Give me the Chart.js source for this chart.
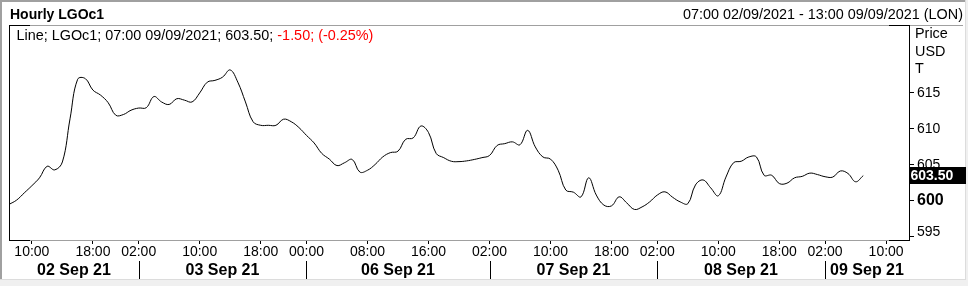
<!DOCTYPE html>
<html><head><meta charset="utf-8">
<script src="https://cdn.jsdelivr.net/npm/chart.js@4.4.0/dist/chart.umd.min.js"></script>
<style>html,body{margin:0;padding:0;background:#fff;overflow:hidden}#wrap{position:relative;width:968px;height:286px}</style>
</head><body><div id="wrap"><canvas id="c" width="968" height="286"></canvas></div>
<script>
// ---- data ----
const dayLabels = ['02 Sep 21','03 Sep 21','06 Sep 21','07 Sep 21','08 Sep 21','09 Sep 21'];
const dayFirstHour = [7, 2, 0, 2, 2, 2];
const dayLastHour = [23, 23, 23, 23, 23, 13];
const xTicks = ['02 Sep 21 10:00','02 Sep 21 18:00','03 Sep 21 02:00','03 Sep 21 10:00','03 Sep 21 18:00',
  '06 Sep 21 00:00','06 Sep 21 08:00','06 Sep 21 16:00','07 Sep 21 02:00','07 Sep 21 10:00','07 Sep 21 18:00',
  '08 Sep 21 02:00','08 Sep 21 10:00','08 Sep 21 18:00','09 Sep 21 02:00','09 Sep 21 10:00'];
const prices = [
  599.5, 600.1, 601.1, 602.1, 603.2, 604.8, 604.3, 605.4, 611.4, 616.9,
  617.0, 615.4, 614.7, 613.65, 611.9, 612.0, 612.6, 612.9, 612.95, 614.5,
  613.75, 613.4, 614.2, 614.0, 613.75, 615.0, 616.5, 616.75, 617.2, 618.2,
  616.5, 613.75, 611.0, 610.5, 610.5, 610.5, 611.35, 611.0, 610.2, 609.1,
  608.05, 606.6, 605.8, 604.9, 605.3, 605.75, 604.0, 604.25, 605.05, 606.1,
  606.7, 606.9, 608.55, 608.75, 610.4, 609.5, 606.6, 606.0, 605.5, 605.45,
  605.55, 605.75, 606.0, 606.3, 607.7, 607.95, 608.2, 607.8, 609.8, 607.5,
  606.1, 605.8, 604.25, 601.5, 601.2, 600.55, 603.2, 600.8, 599.4, 599.3,
  600.55, 599.7, 598.8, 599.15, 599.85, 600.8, 601.25, 600.5, 599.85, 599.6,
  602.2, 602.9, 601.8, 600.7, 603.3, 605.3, 605.5, 606.1, 606.1, 603.55,
  603.55, 602.4, 602.45, 603.2, 603.4, 603.85, 603.65, 603.35, 603.3, 604.15,
  603.8, 602.65, 603.5
];
const yTicks = [595, 600, 605, 610, 615];
const yMin = 594.55, yMax = 624.45;
const titleText = 'Hourly LGOc1';
const rangeText = '07:00 02/09/2021 - 13:00 09/09/2021 (LON)';
const legendBlack = 'Line; LGOc1; 07:00 09/09/2021; 603.50; ';
const legendRed = '-1.50; (-0.25%)';
const unitLines = ['Price', 'USD', 'T'];
const lastLabel = '603.50';

// categories (hourly trading slots)
const categories = [];
const dayStartIndex = [];
dayLabels.forEach((d, k) => {
  dayStartIndex.push(categories.length);
  for (let h = dayFirstHour[k]; h <= dayLastHour[k]; h++) categories.push(d + ' ' + String(h).padStart(2, '0') + ':00');
});

const FONT = "'Liberation Sans', Arial, sans-serif";

const deco = {
  id: 'deco',
  beforeDraw(chart) {
    const c = chart.ctx;
    c.save();
    c.fillStyle = '#fff';
    c.fillRect(0, 0, 968, 286);
    c.fillStyle = '#f0f0f0';
    c.fillRect(0, 280, 968, 6);
    c.fillRect(966, 0, 2, 286);
    c.restore();
  },
  afterDraw(chart) {
    const c = chart.ctx;
    const a = chart.chartArea;
    const xs = chart.scales.x, ys = chart.scales.y;
    c.save();
    // outer border
    c.fillStyle = '#a0a0a0';
    c.fillRect(0, 0, 966, 2);
    c.fillRect(0, 0, 2, 280);
    c.fillStyle = '#dcdcdc';
    c.fillRect(965, 0, 1, 280);
    c.fillRect(0, 279, 966, 1);
    // header texts
    c.fillStyle = '#000';
    c.textBaseline = 'alphabetic';
    c.font = 'bold 14px ' + FONT;
    c.textAlign = 'left';
    c.fillText(titleText, 10, 19);
    c.font = '14.4px ' + FONT;
    c.textAlign = 'right';
    c.fillText(rangeText, 963, 19);
    // header line
    c.fillStyle = '#a0a0a0';
    c.fillRect(a.left, 25, 963 - a.left, 1);
    c.fillRect(a.left, a.bottom, a.right - a.left, 1);
    // plot frame
    c.fillStyle = '#000';
    c.fillRect(a.left, a.top, 1, a.bottom - a.top + 1);
    c.fillRect(a.right, a.top, 1, a.bottom - a.top + 1);
    c.fillRect(a.left, a.top, 21, 1);
    c.fillRect(a.right - 20, a.top, 21, 1);
    c.fillRect(a.left, a.bottom, 21, 1);
    c.fillRect(a.right - 20, a.bottom, 21, 1);
    // legend
    c.textAlign = 'left';
    c.font = '14.4px ' + FONT;
    c.fillStyle = '#000';
    c.fillText(legendBlack, 16.5, 40);
    const w = c.measureText(legendBlack).width;
    c.fillStyle = '#ff0000';
    c.fillText(legendRed, 16.5 + w, 40);
    // unit labels
    c.fillStyle = '#000';
    unitLines.forEach((t, i) => c.fillText(t, 915, 38 + i * 17.5));
    // last price box
    const py = ys.getPixelForValue(prices[prices.length - 1]);
    c.fillStyle = '#000';
    c.fillRect(a.right, Math.round(py) - 9, 57, 17);
    c.fillStyle = '#fff';
    c.font = 'bold 14px ' + FONT;
    c.textBaseline = 'middle';
    c.fillText(lastLabel, 910.5, Math.round(py) + 0.5);
    // day separators and labels
    c.fillStyle = '#000';
    const bounds = [a.left];
    for (let k = 1; k < dayLabels.length; k++) {
      const px = Math.round(xs.getPixelForValue(dayStartIndex[k]));
      c.fillRect(px, 261, 1, 18);
      bounds.push(px);
    }
    bounds.push(a.right);
    c.font = 'bold 16px ' + FONT;
    c.textAlign = 'center';
    c.textBaseline = 'alphabetic';
    for (let k = 0; k < dayLabels.length; k++) {
      c.fillText(dayLabels[k], (bounds[k] + bounds[k + 1]) / 2, 275);
    }
    c.restore();
  }
};

new Chart(document.getElementById('c'), {
  type: 'line',
  data: {
    labels: categories,
    datasets: [{
      data: prices,
      borderColor: '#000',
      borderWidth: 1,
      pointRadius: 0,
      tension: 0.4,
      fill: false
    }]
  },
  options: {
    responsive: false,
    devicePixelRatio: 1,
    animation: false,
    events: [],
    layout: { padding: { left: 9, top: 25, right: 0, bottom: 0 } },
    plugins: { legend: { display: false }, tooltip: { enabled: false }, title: { display: false } },
    scales: {
      x: {
        type: 'category',
        offset: false,
        border: { display: false },
        grid: { drawOnChartArea: false, drawTicks: true, tickLength: 4, color: '#000', lineWidth: 1 },
        ticks: {
          autoSkip: false, maxRotation: 0, minRotation: 0, padding: 0,
          color: '#000', font: { family: FONT, size: 14 },
          callback: (v, i) => xTicks.includes(categories[i]) ? categories[i].slice(-5) : null
        },
        afterFit: s => { s.height = 46; s.paddingLeft = 0; s.paddingRight = 0; }
      },
      y: {
        position: 'right',
        min: yMin, max: yMax,
        border: { display: false },
        grid: { drawOnChartArea: false, drawTicks: true, tickLength: 5, color: '#000', lineWidth: 1 },
        afterBuildTicks: s => { s.ticks = yTicks.map(v => ({ value: v })); },
        ticks: {
          padding: 3, color: '#000',
          font: ctx => ctx.tick && ctx.tick.value === 600 ? { family: FONT, size: 16, weight: 'bold' }
            : (ctx.tick && ctx.tick.value === 595 ? { family: FONT, size: 14, lineHeight: 0.7 } : { family: FONT, size: 14 }),
          callback: v => v === 595 ? ['595', ''] : String(v)
        },
        afterFit: s => { s.width = 59; }
      }
    }
  },
  plugins: [deco]
});
</script></body></html>
